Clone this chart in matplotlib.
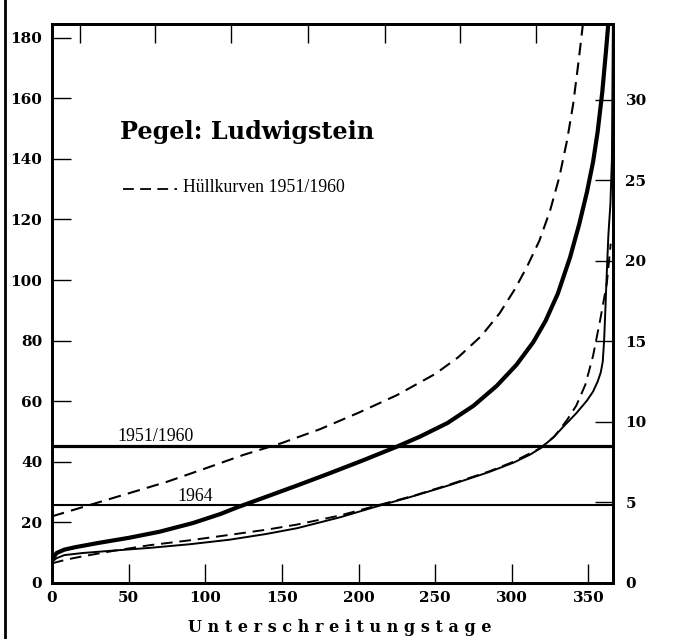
import matplotlib
matplotlib.use("Agg")
import matplotlib.pyplot as plt
from matplotlib.lines import Line2D

# ---- data ----
mean_days = [0, 3, 8, 15, 30, 50, 70, 92, 110, 121, 140, 160, 180, 203, 225, 240, 258, 275, 290,
             303, 314, 322, 330, 338, 344, 349, 353, 356, 359, 361.5, 363, 365]
mean_vals = [7.8, 9.9, 11.0, 11.8, 13.2, 14.9, 16.9, 19.8, 22.8, 25.0, 28.5, 32.2, 36.0, 40.5, 45.0, 48.3, 52.8, 58.5, 65.0,
             72.0, 79.5, 86.5, 95.5, 107.5, 118.5, 129, 139, 149, 162, 176, 185, 200]

upper_env_days = [0, 25, 50, 75, 100, 125, 150, 175, 200, 225, 250, 265, 280, 292, 302, 310, 318, 325,
                  331, 336, 340, 343.5, 346.5, 348]
upper_env_vals = [22, 25.8, 29.6, 33.4, 37.8, 42.3, 46.2, 50.8, 56.2, 62.0, 69.0, 74.5, 81.5, 89, 97, 104.5, 113, 123,
                  134, 146, 158, 172, 185, 192]

lower_env_days = [0, 10, 20, 40, 64, 90, 116, 140, 160, 188, 210, 236, 260, 285, 300, 319, 328, 336, 342,
                  348, 353, 357.7, 362, 364.5]
lower_env_vals = [6.5, 7.8, 8.8, 10.6, 12.5, 14.1, 15.9, 17.6, 19.3, 22.3, 25.3, 28.8, 32.6, 36.8, 39.8, 44.6, 48.5, 53.8, 58.5,
                  65.5, 75, 87, 99, 112]

y1964_days = [0, 3, 8, 20, 40, 64, 90, 116, 140, 160, 188, 210, 236, 260, 285, 301, 312, 319, 327, 334, 342,
              349, 353, 356, 358, 359.3, 360.2, 361, 362, 363, 364.3, 365.3, 366]
y1964_vals = [7, 8.2, 9.2, 9.9, 10.7, 11.6, 12.8, 14.3, 16.2, 18.1, 21.7, 25.0, 28.7, 32.4, 36.6, 39.7, 42.4, 44.6, 48.0, 51.8, 56.0,
              60.2, 63.2, 66.5, 69.5, 73, 80, 90, 103, 115, 125, 140, 190]

ref_mean_level = 45.1   # 1951/1960
ref_1964_level = 25.6   # 1964

x_ticks = [0, 50, 100, 150, 200, 250, 300, 350]
top_ticks = [18, 67, 117, 167, 217, 266, 316]
left_ticks = [0, 20, 40, 60, 80, 100, 120, 140, 160, 180]
right_ticks = [0, 5, 10, 15, 20, 25, 30]

title_a = "Pegel: Ludwigstein"
legend_label = "Hüllkurven 1951/1960"
xlabel = "U n t e r s c h r e i t u n g s t a g e"

# ---- figure ----
fig = plt.figure(figsize=(6.86, 6.39), dpi=100)
ax = fig.add_axes([52/686, 56/639, 561/686, 559/639])
ax.set_xlim(0, 366)
ax.set_ylim(0, 184.5)

serif = ["DejaVu Serif"]
tserif = ["Liberation Serif", "DejaVu Serif"]

ax.plot(mean_days, mean_vals, color="black", lw=3.0, solid_joinstyle="round")
ax.plot(y1964_days, y1964_vals, color="black", lw=1.4, solid_joinstyle="round")
ax.plot(upper_env_days, upper_env_vals, color="black", lw=1.5, dashes=(6, 3.5))
ax.plot(lower_env_days, lower_env_vals, color="black", lw=1.4, dashes=(6, 3.5))

ax.axhline(ref_mean_level, color="black", lw=2.3)
ax.axhline(ref_1964_level, color="black", lw=1.5)

ax.text(67.5, ref_mean_level + 0.4, "1951/1960", ha="center", va="bottom",
        fontsize=12.8, family=tserif)
ax.text(93.5, ref_1964_level + 0.3, "1964", ha="center", va="bottom",
        fontsize=12.8, family=tserif)

ax.text(0.121, 0.807, title_a, transform=ax.transAxes, ha="left", va="center",
        fontsize=17.2, fontweight="bold", family=serif)
ax.plot([0.1266, 0.2228], [0.705, 0.705], transform=ax.transAxes, color="black",
        lw=1.3, dashes=(6, 3.5))
ax.text(0.2335, 0.708, legend_label, transform=ax.transAxes, ha="left", va="center",
        fontsize=12.8, family=tserif)

# spines
for s in ax.spines.values():
    s.set_linewidth(2.0)

# ticks
ax.set_xticks(x_ticks)
ax.set_xticklabels([str(t) for t in x_ticks], fontsize=11, fontweight="bold", family=serif)
ax.set_yticks(left_ticks)
ax.set_yticklabels([str(t) for t in left_ticks], fontsize=11, fontweight="bold", family=serif)
ax.tick_params(axis="x", direction="in", length=14, width=1.0, pad=6, top=False)
ax.tick_params(axis="y", direction="in", length=14, width=1.0, pad=7)
ax.xaxis.get_major_ticks()[0].tick1line.set_visible(False)
ax.yaxis.get_major_ticks()[0].tick1line.set_visible(False)

axt = ax.secondary_xaxis("top")
axt.set_xticks(top_ticks)
axt.set_xticklabels([])
axt.tick_params(direction="in", length=14, width=1.0)
axt.spines["top"].set_linewidth(2.0)

ax2 = ax.twinx()
ax2.set_ylim(0, 34.7)
ax2.set_yticks(right_ticks)
ax2.set_yticklabels([str(t) for t in right_ticks], fontsize=11, fontweight="bold", family=serif)
ax2.tick_params(axis="y", direction="in", length=13, width=1.0, pad=9)
ax2.yaxis.get_major_ticks()[0].tick2line.set_visible(False)
for s in ax2.spines.values():
    s.set_linewidth(2.0)

fig.text(340/686, 1 - 628/639, xlabel, ha="center", va="center",
         fontsize=11.5, fontweight="bold", family=serif)

# scan border on left edge
fig.add_artist(Line2D([5/686, 5/686], [0, 1], transform=fig.transFigure, color="black", lw=2))

fig.savefig("out.png", dpi=100)
